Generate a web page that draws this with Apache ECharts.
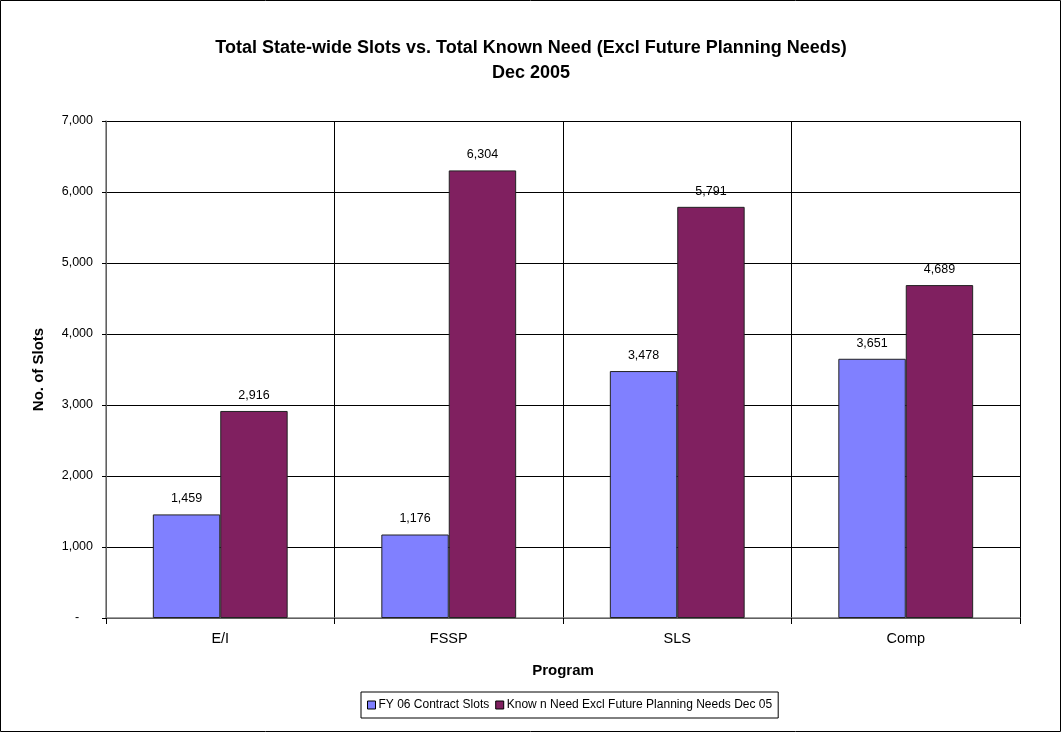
<!DOCTYPE html>
<html>
<head>
<meta charset="utf-8">
<script src="https://cdn.jsdelivr.net/npm/echarts@6/dist/echarts.min.js"></script>
<style>html,body{margin:0;padding:0;background:#fff;}#c{width:1062px;height:733px;}</style>
</head>
<body>
<div id="c"></div>
<script>
const categories = ['E/I', 'FSSP', 'SLS', 'Comp'];
const contractSlots = [1459, 1176, 3478, 3651];
const knownNeed = [2916, 6304, 5791, 4689];
const seriesNames = ['FY 06 Contract Slots', 'Know n Need Excl Future Planning Needs Dec 05'];
const yTicks = [0, 1000, 2000, 3000, 4000, 5000, 6000, 7000];

const fmt = v => v.toString().replace(/\B(?=(\d{3})+(?!\d))/g, ',');
const axisFmt = v => v === 0 ? '-    ' : fmt(v);
const font = 'Liberation Sans, Arial, sans-serif';

const chart = echarts.init(document.getElementById('c'), null, {renderer: 'canvas'});
chart.setOption({
  animation: false,
  backgroundColor: '#fff',
  textStyle: {fontFamily: font},
  title: {
    text: 'Total State-wide Slots vs. Total Known Need (Excl Future Planning Needs)\nDec 2005',
    left: 'center',
    top: 31,
    textStyle: {fontFamily: font, fontSize: 18, fontWeight: 'bold', color: '#000', lineHeight: 25}
  },
  grid: {left: 106, right: 42, top: 121, bottom: 115, containLabel: false},
  legend: {
    data: seriesNames,
    top: 692,
    left: 361,
    itemWidth: 8,
    itemHeight: 8,
    itemGap: 6,
    icon: 'rect',
    borderColor: '#000',
    borderWidth: 1,
    padding: [7, 6, 7, 6],
    textStyle: {fontFamily: font, fontSize: 12, color: '#000', padding: [0, 0, 0, -2]},
    itemStyle: {borderColor: '#000', borderWidth: 1}
  },
  xAxis: {
    type: 'category',
    data: categories,
    name: 'Program',
    nameLocation: 'middle',
    nameGap: 45,
    nameTextStyle: {fontFamily: font, fontSize: 15, fontWeight: 'bold', color: '#000'},
    axisLine: {lineStyle: {color: '#808080', width: 1.5}},
    axisTick: {show: true, length: 6, lineStyle: {color: '#000'}},
    axisLabel: {fontFamily: font, fontSize: 14.5, color: '#000', margin: 13},
    splitLine: {show: true, lineStyle: {color: '#000', width: 1}}
  },
  yAxis: {
    type: 'value',
    min: yTicks[0],
    max: yTicks[yTicks.length - 1],
    interval: 1000,
    name: 'No. of Slots',
    nameLocation: 'middle',
    nameGap: 60,
    nameTextStyle: {fontFamily: font, fontSize: 15, fontWeight: 'bold', color: '#000'},
    axisLine: {show: true, lineStyle: {color: '#808080', width: 1.5}},
    axisTick: {show: true, length: 4, lineStyle: {color: '#000'}},
    axisLabel: {fontFamily: font, fontSize: 12.5, color: '#000', margin: 13, formatter: axisFmt},
    splitLine: {show: true, lineStyle: {color: '#000', width: 1}}
  },
  series: [
    {
      name: seriesNames[0],
      type: 'bar',
      data: contractSlots,
      barGap: '0%',
      barCategoryGap: '41%',
      itemStyle: {color: '#8080FF', borderColor: '#222', borderWidth: 1},
      label: {show: true, position: 'top', distance: 9, fontFamily: font, fontSize: 12.5, color: '#000', formatter: p => fmt(p.value)}
    },
    {
      name: seriesNames[1],
      type: 'bar',
      data: knownNeed,
      itemStyle: {color: '#802060', borderColor: '#222', borderWidth: 1},
      label: {show: true, position: 'top', distance: 9, fontFamily: font, fontSize: 12.5, color: '#000', formatter: p => fmt(p.value)}
    }
  ],
  graphic: [{
    type: 'rect',
    shape: {x: 0.5, y: 0.5, width: 1060, height: 731},
    style: {fill: 'none', stroke: '#000', lineWidth: 1},
    silent: true
  }]
});
</script>
</body>
</html>
